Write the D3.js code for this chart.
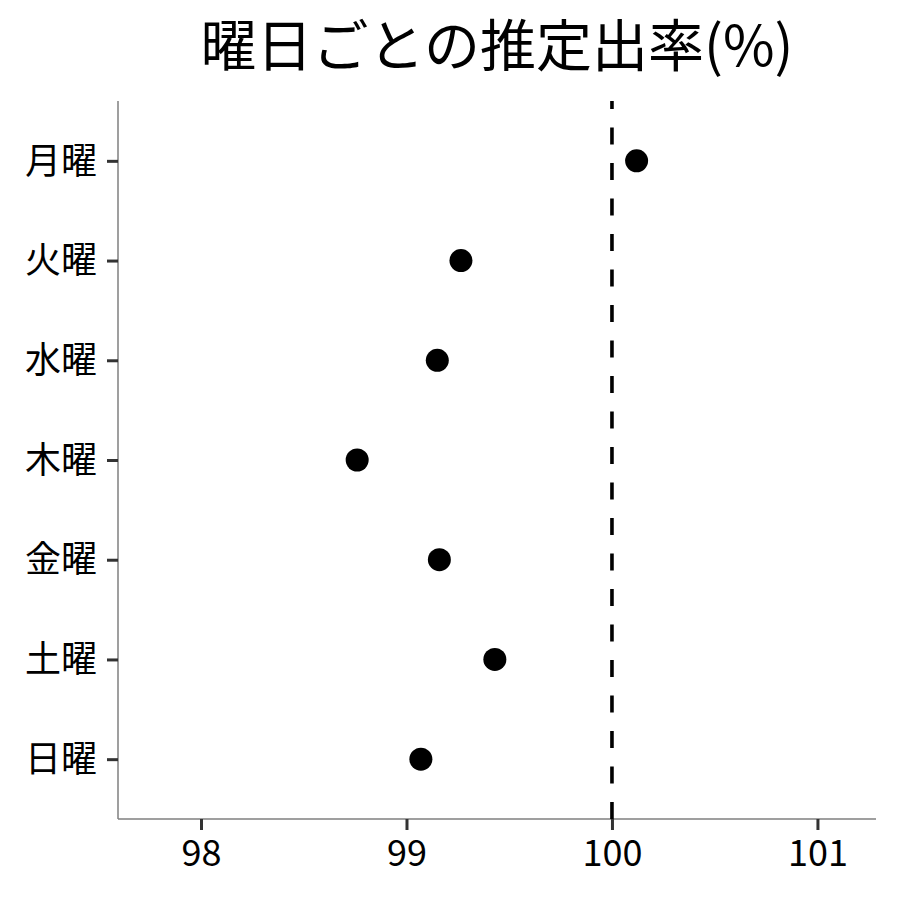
<!DOCTYPE html>
<html>
<head>
<meta charset="utf-8">
<script src="https://cdn.jsdelivr.net/npm/d3@7"></script>
<style>
  body { margin: 0; background: #fff; }
  text { font-family: "Noto Sans CJK JP", "Noto Sans", sans-serif; }
</style>
</head>
<body>
<svg id="chart" width="900" height="900"></svg>
<script>
const TITLE = "曜日ごとの推定出率(%)";
const days = ["月曜", "火曜", "水曜", "木曜", "金曜", "土曜", "日曜"];
const rates = [100.12, 99.265, 99.15, 98.76, 99.16, 99.43, 99.07];
const xTicks = [98, 99, 100, 101];
const refLine = 100;

const MARGIN = { top: 101, right: 24, bottom: 81, left: 118 };
const W = 900, H = 900;

const svg = d3.select("#chart");
svg.append("rect").attr("width", W).attr("height", H).attr("fill", "#fff");

const x = d3.scaleLinear()
  .domain([97.596, 101.285])
  .range([MARGIN.left, W - MARGIN.right]);

// ggplot-style discrete axis: 0.6 units of padding each side
const y = d3.scalePoint()
  .domain(days)
  .range([MARGIN.top, H - MARGIN.bottom])
  .padding(0.6);

// axes
const xAxis = svg.append("g")
  .attr("transform", `translate(0,${H - MARGIN.bottom})`)
  .call(d3.axisBottom(x).tickValues(xTicks).tickSize(11).tickPadding(9).tickFormat(d3.format("d")));

const yAxis = svg.append("g")
  .attr("transform", `translate(${MARGIN.left},0)`)
  .call(d3.axisLeft(y).tickSize(11).tickPadding(10));

[xAxis, yAxis].forEach(g => {
  g.select(".domain").attr("stroke", "#7f7f7f").attr("stroke-width", 1.5);
  g.selectAll(".tick line").attr("stroke", "#333").attr("stroke-width", 3);
  g.selectAll(".tick text")
    .attr("fill", "#000")
    .style("font-family", '"Noto Sans CJK JP", sans-serif')
    .style("font-size", "36px");
});
// remove the end caps d3 adds on the domain path
xAxis.select(".domain").attr("d", `M${MARGIN.left},0H${W - MARGIN.right}`);
yAxis.select(".domain").attr("d", `M0,${MARGIN.top}V${H - MARGIN.bottom}`);
yAxis.selectAll(".tick text").attr("dy", "0.34em");
xAxis.selectAll(".tick text").attr("dy", "0.75em");

// reference line, drawn bottom-up like ggplot
svg.append("line")
  .attr("x1", x(refLine)).attr("x2", x(refLine))
  .attr("y1", H - MARGIN.bottom).attr("y2", MARGIN.top)
  .attr("stroke", "#000")
  .attr("stroke-width", 3.6)
  .attr("stroke-dasharray", "17,18.5");

// points
svg.append("g")
  .selectAll("circle")
  .data(days.map((d, i) => ({ day: d, rate: rates[i] })))
  .join("circle")
  .attr("cx", d => x(d.rate))
  .attr("cy", d => y(d.day))
  .attr("r", 11.5)
  .attr("fill", "#000");

// title centred over the panel
svg.append("text")
  .attr("x", (MARGIN.left + W - MARGIN.right) / 2)
  .attr("y", 66)
  .attr("text-anchor", "middle")
  .style("font-size", "56px")
  .attr("fill", "#000")
  .text(TITLE);
</script>
</body>
</html>
